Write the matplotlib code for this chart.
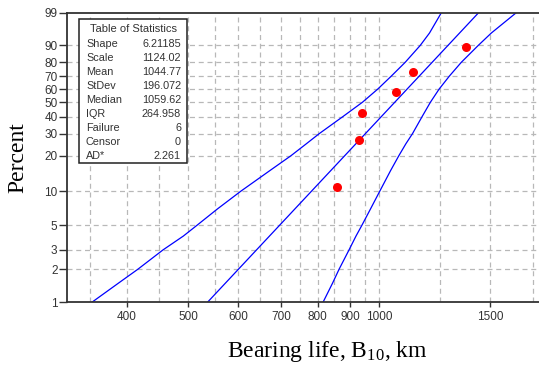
import numpy as np
import matplotlib
matplotlib.use("Agg")
import matplotlib.pyplot as plt
from matplotlib.patches import Rectangle

plt.rcParams["mathtext.fontset"] = "custom"
plt.rcParams["mathtext.rm"] = "Liberation Serif"
plt.rcParams["mathtext.it"] = "Liberation Serif:italic"

# failure data (median ranks)
life = [860, 929, 941, 1063, 1133, 1372]
pct = [10.9, 26.6, 42.2, 57.8, 73.4, 89.1]

# fitted weibull line
fit_pct = [1, 99]
fit_life = [536, 1437]

# confidence bounds
bound_pct = [1, 1.5, 2, 3, 4, 5, 7, 10, 15, 20, 25, 30, 40, 50, 60, 70, 80, 90, 95, 99]
lower_life = [352, 388, 416, 456, 491, 516, 556, 605, 672, 726, 768, 805, 877, 942,
              996, 1046, 1100, 1162, 1202, 1255]
upper_life = [816, 845, 865, 897, 920, 940, 970, 1003, 1043, 1075, 1103, 1130, 1170, 1206,
              1245, 1292, 1349, 1435, 1505, 1648]

yticks = [1, 2, 3, 5, 10, 20, 30, 40, 50, 60, 70, 80, 90, 99]
xticks = [400, 500, 600, 700, 800, 900, 1000, 1500]
xgrid = [350, 400, 450, 500, 550, 600, 650, 700, 750, 800, 850, 900, 950, 1000, 1250, 1500, 1750]

stat_names = ["Shape", "Scale", "Mean", "StDev", "Median", "IQR", "Failure", "Censor", "AD*"]
stat_values = ["6.21185", "1124.02", "1044.77", "196.072", "1059.62", "264.958", "6", "0", "2.261"]


def fwd(p):
    p = np.clip(np.asarray(p, dtype=float), 1e-6, 100 - 1e-6)
    return np.log(-np.log(1 - p / 100.0))


def inv(w):
    return 100.0 * (1 - np.exp(-np.exp(w)))


W, H = 539, 367
fig = plt.figure(figsize=(W / 100, H / 100), dpi=100)
ax = fig.add_axes([66.5 / W, 1 - 302.3 / H, (W - 66.5) / W, (302.3 - 12.7) / H])

ax.set_xscale("log")
ax.set_yscale("function", functions=(fwd, inv))
ax.set_xlim(321, 1790)
ax.set_ylim(1, 99)

gcol = "#b8b8b8"
for g in xgrid:
    ax.axvline(g, color=gcol, lw=0.9, ls=(0, (4, 3)), zorder=0)
for g in yticks[1:-1]:
    ax.axhline(g, color=gcol, lw=0.9, ls=(0, (4, 3)), zorder=0)

ax.plot(lower_life, bound_pct, color="#0000ff", lw=0.9)
ax.plot(upper_life, bound_pct, color="#0000ff", lw=0.9)
ax.plot(fit_life, fit_pct, color="#0000ff", lw=0.9)
ax.plot(life, pct, "o", color="#ff0000", ms=6.5, mec="none", zorder=5)

ax.set_xticks(xticks)
ax.set_xticklabels([str(v) for v in xticks])
ax.xaxis.set_minor_locator(matplotlib.ticker.NullLocator())
ax.set_yticks(yticks)
ax.set_yticklabels([str(v) for v in yticks])
ax.yaxis.set_minor_locator(matplotlib.ticker.NullLocator())
for lab in ax.get_xticklabels() + ax.get_yticklabels():
    lab.set_fontfamily("Liberation Sans")
    lab.set_fontsize(8.5)
    lab.set_color("#333333")
ax.tick_params(axis="x", length=3.5, width=1, pad=3, color="#333333")
ax.tick_params(axis="y", length=5.5, width=1, pad=1, color="#333333")

for s in ["left", "bottom", "top"]:
    ax.spines[s].set_color("#333333")
    ax.spines[s].set_linewidth(1.3)
ax.spines["right"].set_visible(False)

fig.text(18 / W, 1 - 158 / H, "Percent", family="Liberation Serif", fontsize=17,
         rotation=90, ha="center", va="center")
fig.text(327 / W, 1 - 351 / H, "Bearing life, B$_{10}$, km", family="Liberation Serif",
         fontsize=17, ha="center", va="center")

# statistics box
bx0, by0, bx1, by1 = 79.3, 19, 187.3, 163.3
fig.patches.append(Rectangle((bx0 / W, 1 - by1 / H), (bx1 - bx0) / W, (by1 - by0) / H,
                             transform=fig.transFigure, facecolor="white",
                             edgecolor="#222222", lw=1.1, zorder=10))
fig.text(133 / W, 1 - 29.3 / H, "Table of Statistics", family="Liberation Sans",
         fontsize=8, ha="center", va="center", color="#333333", zorder=11)
for i, (n, v) in enumerate(zip(stat_names, stat_values)):
    yy = 1 - (43.7 + i * 14.0) / H
    fig.text(86 / W, yy, n, family="Liberation Sans", fontsize=7.8, ha="left",
             va="center", color="#333333", zorder=11)
    fig.text(181 / W, yy, v, family="Liberation Sans", fontsize=7.8, ha="right",
             va="center", color="#333333", zorder=11)

fig.savefig("out.png", dpi=100)
